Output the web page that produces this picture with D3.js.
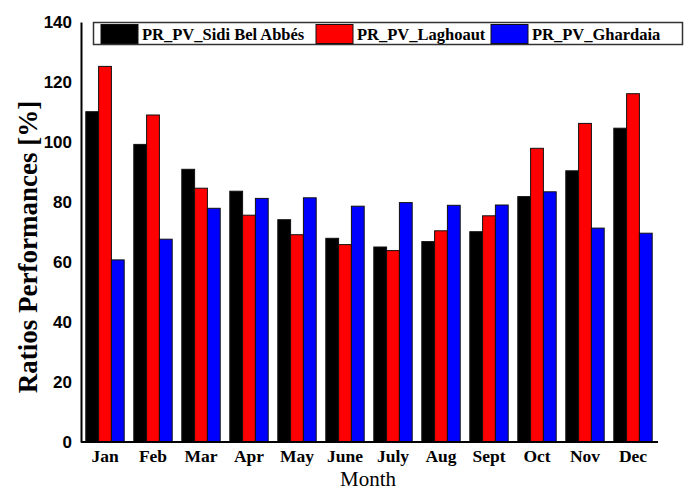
<!DOCTYPE html>
<html>
<head>
<meta charset="utf-8">
<script src="https://cdn.jsdelivr.net/npm/d3@7"></script>
<style>
  html, body { margin: 0; padding: 0; background: #fff; }
  svg { display: block; }
</style>
</head>
<body>
<script>
const months = ["Jan","Feb","Mar","Apr","May","June","July","Aug","Sept","Oct","Nov","Dec"];
const seriesNames = ["PR_PV_Sidi Bel Abbés","PR_PV_Laghoaut","PR_PV_Ghardaia"];
const seriesColors = ["#000000","#ff0000","#0000ff"];
const sidiBelAbbes = [110.1, 99.2, 90.9, 83.6, 74.1, 67.9, 65.0, 66.8, 70.1, 81.8, 90.4, 104.6];
const laghouat     = [125.2, 109.0, 84.6, 75.6, 69.1, 65.8, 63.8, 70.4, 75.4, 97.9, 106.2, 116.1];
const ghardaia     = [60.7, 67.6, 77.9, 81.2, 81.4, 78.6, 79.8, 78.9, 79.0, 83.4, 71.3, 69.6];
const yTicks = [0, 20, 40, 60, 80, 100, 120, 140];
const yTitle = "Ratios Performances [%]";
const xTitle = "Month";

const seriesValues = [sidiBelAbbes, laghouat, ghardaia];

const W = 685, H = 492;
const svg = d3.select("body").append("svg").attr("width", W).attr("height", H);

const mLeft = 81, mRight = 657, mTop = 22, mBottom = 442;
const x0 = d3.scaleBand().domain(months).range([mLeft, mRight]).paddingInner(0.2).paddingOuter(0.1);
const x1 = d3.scaleBand().domain(d3.range(seriesNames.length)).range([0, x0.bandwidth()]);
const y = d3.scaleLinear().domain([0, 140]).range([mBottom, mTop]);

// bars
const groups = svg.append("g").selectAll("g").data(months).join("g")
  .attr("transform", d => `translate(${x0(d)},0)`);
groups.selectAll("rect")
  .data((m, i) => seriesValues.map((vals, s) => ({ s, v: vals[i] })))
  .join("rect")
  .attr("x", d => x1(d.s))
  .attr("y", d => y(d.v))
  .attr("width", x1.bandwidth())
  .attr("height", d => y(0) - y(d.v))
  .attr("fill", d => seriesColors[d.s])
  .attr("stroke", "#111")
  .attr("stroke-width", 1);

// y axis
const yAxis = svg.append("g").attr("transform", `translate(${mLeft},0)`)
  .call(d3.axisLeft(y).tickValues(yTicks).tickSize(0).tickPadding(9));
yAxis.select(".domain").attr("stroke", "#000").attr("stroke-width", 2);
yAxis.selectAll("text")
  .attr("font-family", "'Liberation Sans', Arial, sans-serif")
  .attr("font-weight", "bold")
  .attr("font-size", 17)
  .attr("fill", "#000");

// x axis
const xAxis = svg.append("g").attr("transform", `translate(0,${mBottom})`)
  .call(d3.axisBottom(x0).tickSize(0).tickPadding(8));
xAxis.select(".domain").attr("stroke", "#000").attr("stroke-width", 2)
  .attr("d", `M${mLeft},0H${mRight + 1}`);
xAxis.selectAll("text")
  .attr("font-family", "'Liberation Serif', 'Times New Roman', serif")
  .attr("font-weight", "bold")
  .attr("font-size", 17.5)
  .attr("fill", "#000");

// axis titles
svg.append("text")
  .attr("transform", "translate(37,247) rotate(-90)")
  .attr("text-anchor", "middle")
  .attr("font-family", "'Liberation Serif', 'Times New Roman', serif")
  .attr("font-weight", "bold")
  .attr("font-size", 27)
  .text(yTitle);

svg.append("text")
  .attr("x", 368).attr("y", 486)
  .attr("text-anchor", "middle")
  .attr("font-family", "'Liberation Serif', 'Times New Roman', serif")
  .attr("font-size", 21)
  .text(xTitle);

// legend
const lg = svg.append("g");
lg.append("rect").attr("x", 93.5).attr("y", 22.5).attr("width", 589).attr("height", 22)
  .attr("fill", "#fff").attr("stroke", "#333").attr("stroke-width", 1.5);
const swX = [101, 316, 491];
seriesNames.forEach((name, i) => {
  lg.append("rect").attr("x", swX[i]).attr("y", 24.5).attr("width", 37).attr("height", 19)
    .attr("fill", seriesColors[i]).attr("stroke", "#111").attr("stroke-width", 1);
  lg.append("text").attr("x", swX[i] + 41).attr("y", 39.5)
    .attr("font-family", "'Liberation Serif', 'Times New Roman', serif")
    .attr("font-weight", "bold")
    .attr("font-size", 16.5)
    .text(name);
});
</script>
</body>
</html>
